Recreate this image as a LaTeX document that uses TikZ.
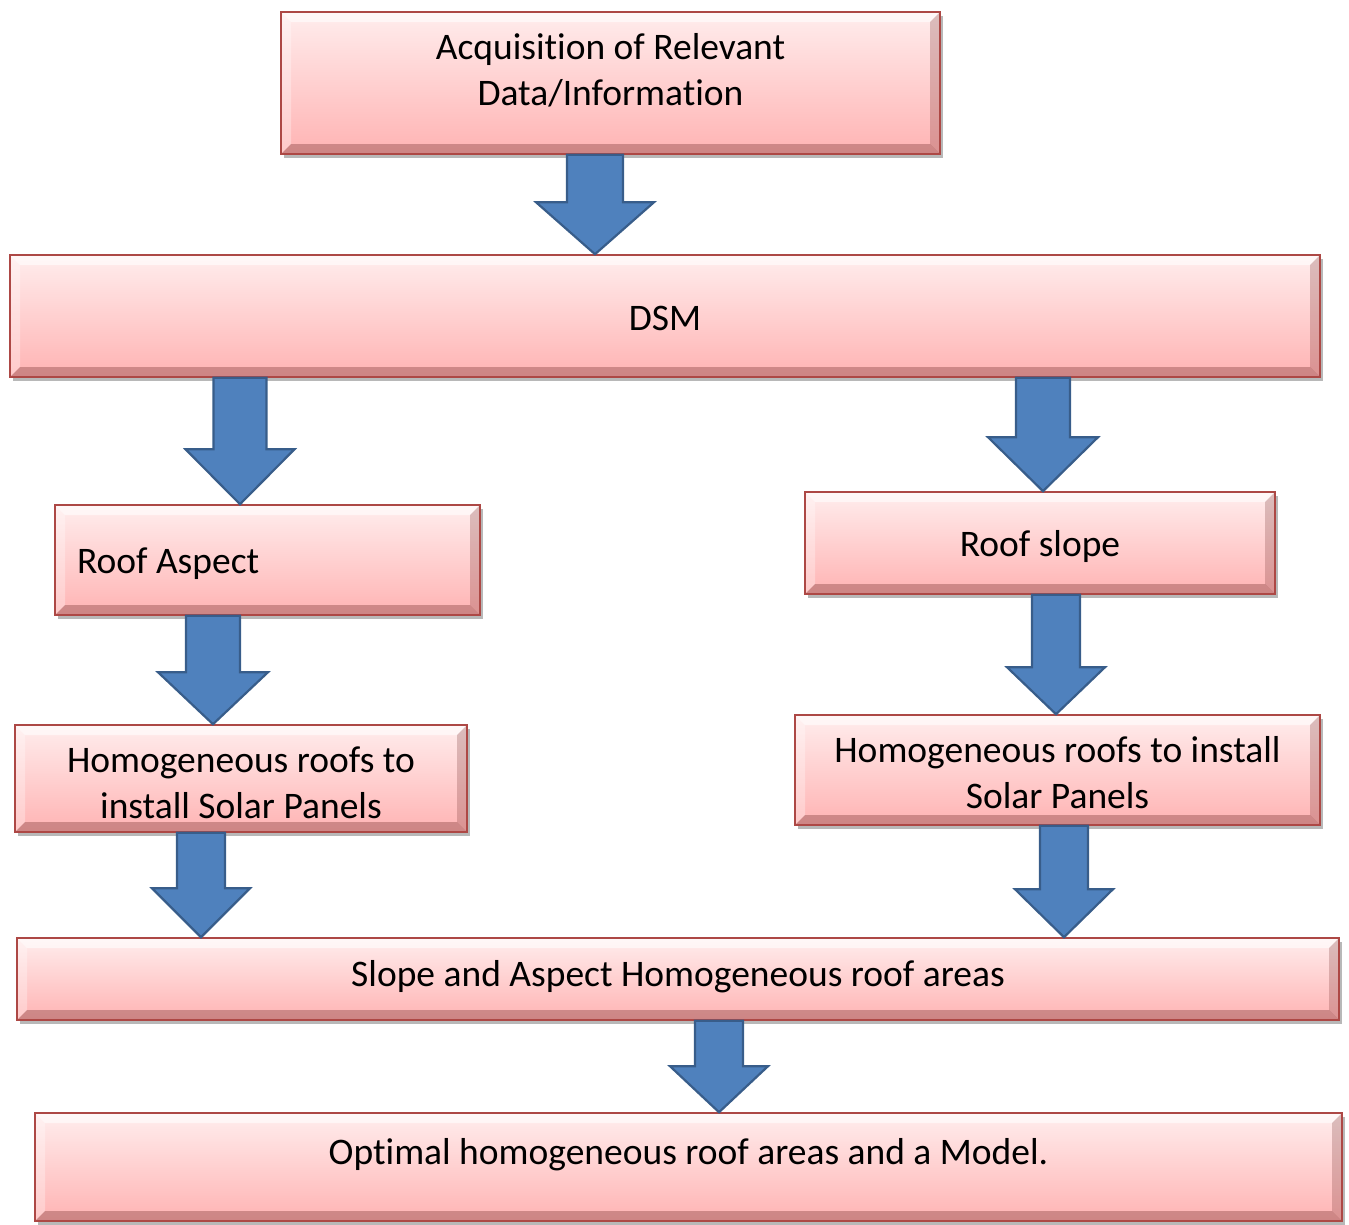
\documentclass[tikz,border=0pt]{standalone}
\usepackage{fontspec}
\setmainfont{Carlito}[Ligatures=NoCommon]
\usetikzlibrary{calc,shadows}
\definecolor{arrowfill}{HTML}{4F81BD}
\definecolor{arrowline}{HTML}{385D8A}
\definecolor{boxtop}{HTML}{FFEDED}
\definecolor{boxbot}{HTML}{FFB3B3}
\definecolor{boxline}{HTML}{C0504D}
\tikzset{
  flowbox/.style={rectangle, draw=boxline!90!black, line width=1.6pt,
    top color=boxtop, bottom color=boxbot, inner sep=0pt, align=center,
    font=\fontsize{37.5}{46}\selectfont,
    drop shadow={shadow xshift=3pt, shadow yshift=-4pt, opacity=0.35, fill=black!80},
    path picture={
      \fill[white,opacity=0.6] (path picture bounding box.north west) -- (path picture bounding box.north east)
        -- ([xshift=-10pt,yshift=-10pt]path picture bounding box.north east)
        -- ([xshift=10pt,yshift=-10pt]path picture bounding box.north west) -- cycle;
      \fill[white,opacity=0.3] (path picture bounding box.north west) -- ([xshift=10pt,yshift=-10pt]path picture bounding box.north west)
        -- ([xshift=10pt,yshift=10pt]path picture bounding box.south west) -- (path picture bounding box.south west) -- cycle;
      \fill[boxline!60!black,opacity=0.25] (path picture bounding box.north east) -- ([xshift=-10pt,yshift=-10pt]path picture bounding box.north east)
        -- ([xshift=-10pt,yshift=10pt]path picture bounding box.south east) -- (path picture bounding box.south east) -- cycle;
      \fill[boxline!60!black,opacity=0.35] (path picture bounding box.south west) -- (path picture bounding box.south east)
        -- ([xshift=-10pt,yshift=10pt]path picture bounding box.south east)
        -- ([xshift=10pt,yshift=10pt]path picture bounding box.south west) -- cycle;
    }},
  blockarrowstyle/.style={fill=arrowfill, draw=arrowline, line width=2.2pt, line join=miter}
}
% #1 start, #2 tip, #3 half shaft width, #4 half head width, #5 head length
\newcommand\blockarrow[5]{%
  \filldraw[blockarrowstyle] let \p1=(#1), \p2=(#2) in
    (\x1-#3pt,\y1) -- (\x1+#3pt,\y1) -- (\x1+#3pt,\y2+#5pt) -- (\x1+#4pt,\y2+#5pt)
    -- (\x1,\y2) -- (\x1-#4pt,\y2+#5pt) -- (\x1-#3pt,\y2+#5pt) -- cycle;}
\begin{document}
\begin{tikzpicture}[x=1pt,y=-1pt]
\useasboundingbox (0,0) rectangle (1349,1224);
\node[flowbox, minimum width=659, minimum height=142, text depth=27pt] (acq) at (610.5,83)
  {Acquisition of Relevant\\Data/Information};
\node[flowbox, minimum width=1310, minimum height=122, text height=28pt, text depth=0pt] (dsm) at (665,316) {DSM};
\node[flowbox, minimum width=425, minimum height=110, text height=34pt, text depth=8pt] (aspect) at (267.5,560) {\makebox[381pt][l]{Roof Aspect}};
\node[flowbox, minimum width=470, minimum height=102, text height=34pt, text depth=8pt] (slope) at (1040,543) {Roof slope};
\node[flowbox, minimum width=452, minimum height=107, text height=79pt, text depth=0pt] (homl) at (241,778.5) {Homogeneous roofs to\\install Solar Panels};
\node[flowbox, minimum width=525, minimum height=110, text height=76pt, text depth=0pt] (homr) at (1057.5,770) {Homogeneous roofs to install\\Solar Panels};
\node[flowbox, minimum width=1322, minimum height=82, text height=30pt, text depth=15pt] (sa) at (678,979) {Slope and Aspect Homogeneous roof areas};
\node[flowbox, minimum width=1307, minimum height=108, text height=30pt, text depth=35pt] (opt) at (688.5,1167) {Optimal homogeneous roof areas and a Model.};

\coordinate (xa) at (595,0);
\coordinate (xb) at (240,0);
\coordinate (xc) at (1043,0);
\coordinate (xd) at (213,0);
\coordinate (xe) at (1056,0);
\coordinate (xf) at (201,0);
\coordinate (xg) at (1064,0);
\coordinate (xh) at (719,0);

\blockarrow{acq.south -| xa}{dsm.north -| xa}{28}{59}{52}
\blockarrow{dsm.south -| xb}{aspect.north -| xb}{26.5}{54.5}{55}
\blockarrow{dsm.south -| xc}{slope.north -| xc}{27}{55}{54}
\blockarrow{aspect.south -| xd}{homl.north -| xd}{27}{55}{52}
\blockarrow{slope.south -| xe}{homr.north -| xe}{24}{49}{47}
\blockarrow{homl.south -| xf}{sa.north -| xf}{24}{49}{49}
\blockarrow{homr.south -| xg}{sa.north -| xg}{24}{49}{48}
\blockarrow{sa.south -| xh}{opt.north -| xh}{24}{49}{46}
\end{tikzpicture}
\end{document}
